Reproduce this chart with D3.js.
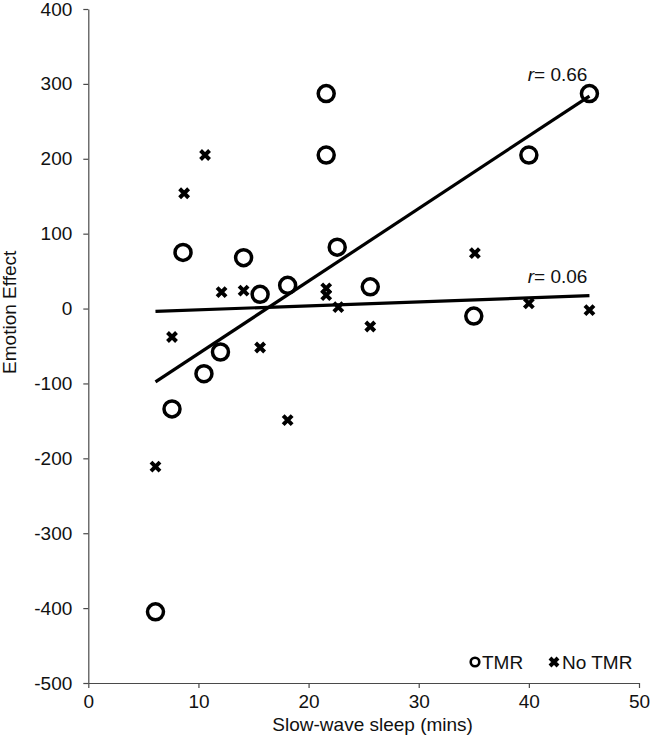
<!DOCTYPE html>
<html>
<head>
<meta charset="utf-8">
<script src="https://cdn.jsdelivr.net/npm/d3@7"></script>
<style>
  html, body { margin: 0; padding: 0; background: #fff; }
  svg { display: block; font-family: Arial, "Liberation Sans", sans-serif; }
</style>
</head>
<body>
<svg id="chart" width="650" height="744"></svg>
<script>
// ---- data ----
const tmrX   = [6.1, 7.6, 8.6, 10.5, 12.0, 14.1, 15.6, 18.1, 21.6, 21.6, 22.6, 25.6, 35.0, 40.0, 45.5];
const tmrY   = [-405, -134, 75, -87, -58, 68, 19, 31, 287, 205, 82, 29, -10, 205, 287];
const noTmrX = [6.1, 7.6, 8.7, 10.6, 12.1, 14.1, 15.6, 18.1, 21.6, 21.6, 22.7, 25.6, 35.1, 40.0, 45.5];
const noTmrY = [-211, -38, 154, 205, 22, 24, -52, -149, 27, 18, 2, -24, 74, 7, -2];
const xTicks = [0, 10, 20, 30, 40, 50];
const yTicks = [-500, -400, -300, -200, -100, 0, 100, 200, 300, 400];
const seriesNames = ["TMR", "No TMR"];
const rLabels = ["0.66", "0.06"];

// ---- layout ----
const svg = d3.select("#chart");
const x = d3.scaleLinear().domain([0, 50]).range([88.3, 639]);
const y = d3.scaleLinear().domain([-500, 400]).range([683, 9]);
const FONT = 19;
const TXT = "#111";
const AX = "#4a4a4a";

// axes
const gx = svg.append("g").attr("transform", `translate(0,${y(-500)})`)
  .call(d3.axisBottom(x).tickValues(xTicks).tickFormat(d => String(d))
    .tickSize(5).tickPadding(7).tickSizeOuter(0));
const gy = svg.append("g").attr("transform", `translate(${x(0)},0)`)
  .call(d3.axisLeft(y).tickValues(yTicks).tickFormat(d => String(d))
    .tickSize(5).tickPadding(11).tickSizeOuter(0));
[gx, gy].forEach(g => {
  g.select(".domain").attr("stroke", AX).attr("stroke-width", 1.2);
  g.selectAll(".tick line").attr("stroke", AX).attr("stroke-width", 1.2);
  g.selectAll(".tick text").attr("fill", TXT).style("font-size", FONT + "px").style("font-family", "Arial, 'Liberation Sans', sans-serif");
});

// axis titles
svg.append("text")
  .attr("x", (x(0) + x(50)) / 2 + 9).attr("y", 731)
  .attr("text-anchor", "middle").attr("fill", TXT)
  .style("font-size", FONT + "px")
  .text("Slow-wave sleep (mins)");
svg.append("text")
  .attr("transform", `translate(16,${y(-5)}) rotate(-90)`)
  .attr("text-anchor", "middle").attr("fill", TXT)
  .style("font-size", FONT + "px")
  .text("Emotion Effect");

// markers
const tmr = tmrX.map((v, i) => ({ x: v, y: tmrY[i] }));
const noTmr = noTmrX.map((v, i) => ({ x: v, y: noTmrY[i] }));
const xPath = a => `M${-a},${-a}L${a},${a}M${-a},${a}L${a},${-a}`;

svg.append("g").selectAll("path").data(noTmr).join("path")
  .attr("transform", d => `translate(${x(d.x)},${y(d.y)})`)
  .attr("d", xPath(4.5))
  .attr("stroke", "#000").attr("stroke-width", 4).attr("fill", "none");

svg.append("g").selectAll("circle").data(tmr).join("circle")
  .attr("cx", d => x(d.x)).attr("cy", d => y(d.y)).attr("r", 8)
  .attr("fill", "none").attr("stroke", "#000").attr("stroke-width", 3.5);

// least-squares trend lines
function fit(pts) {
  const mx = d3.mean(pts, d => d.x), my = d3.mean(pts, d => d.y);
  const sxy = d3.sum(pts, d => (d.x - mx) * (d.y - my));
  const sxx = d3.sum(pts, d => (d.x - mx) ** 2);
  const b = sxy / sxx, a = my - b * mx;
  const [x0, x1] = d3.extent(pts, d => d.x);
  return [{ x: x0, y: a + b * x0 }, { x: x1, y: a + b * x1 }];
}
const line = d3.line().x(d => x(d.x)).y(d => y(d.y));
const fits = [fit(tmr), fit(noTmr)];
svg.append("g").selectAll("path").data(fits).join("path")
  .attr("d", line).attr("fill", "none").attr("stroke", "#000").attr("stroke-width", 3.2);

// r labels
fits.forEach((f, i) => {
  const t = svg.append("text")
    .attr("x", x(f[1].x) - 2).attr("y", y(f[1].y) - (i === 0 ? 15 : 13))
    .attr("text-anchor", "end").attr("fill", TXT)
    .style("font-size", FONT + "px");
  t.append("tspan").style("font-style", "italic").text("r");
  t.append("tspan").text("= " + rLabels[i]);
});

// legend
const lg = svg.append("g").attr("transform", "translate(475,662)");
lg.append("circle").attr("cx", 0).attr("cy", 0).attr("r", 4.3)
  .attr("fill", "none").attr("stroke", "#000").attr("stroke-width", 2.6);
lg.append("text").attr("x", 7).attr("y", 7).attr("fill", TXT)
  .style("font-size", FONT + "px").text(seriesNames[0]);
lg.append("path").attr("transform", "translate(79,0)").attr("d", xPath(4))
  .attr("stroke", "#000").attr("stroke-width", 4).attr("fill", "none");
lg.append("text").attr("x", 87).attr("y", 7).attr("fill", TXT)
  .style("font-size", FONT + "px").text(seriesNames[1]);
</script>
</body>
</html>
